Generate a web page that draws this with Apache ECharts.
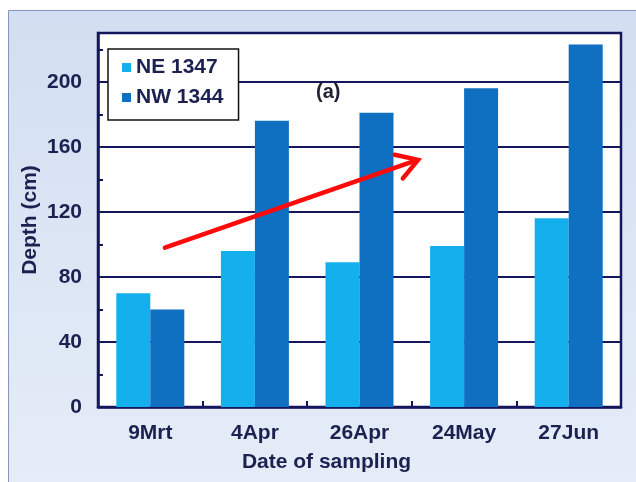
<!DOCTYPE html>
<html><head><meta charset="utf-8">
<script src="https://cdn.jsdelivr.net/npm/echarts@6/dist/echarts.min.js"></script>
<style>html,body{margin:0;padding:0;background:#fff}#c{width:636px;height:482px}</style>
</head><body><div id="c"></div>
<script>
const categories = ['9Mrt', '4Apr', '26Apr', '24May', '27Jun'];
const seriesNames = ['NE 1347', 'NW 1344'];
const ne1347 = [70, 96, 89, 99, 116];
const nw1344 = [60, 176, 181, 196, 223];
const yMin = 0, yMax = 230, yStep = 40;
// arrow annotation in data terms: [category position, depth]
const arrowStart = [0.14, 98];
const arrowEnd = [2.56, 152];

const navy = '#15175e';
const textCol = '#1b2150';
const font = 'Liberation Sans, Arial, sans-serif';

const chart = echarts.init(document.getElementById('c'));
chart.setOption({
  backgroundColor: '#ffffff',
  animation: false,
  graphic: {elements: [{
    id: 'bg', type: 'rect', z: -10, silent: true,
    shape: {x: 8.5, y: 10.5, width: 640, height: 490},
    style: {
      fill: new echarts.graphic.LinearGradient(0, 0, 0, 1, [
        {offset: 0, color: '#d2def1'}, {offset: 1, color: '#e6edf8'}]),
      stroke: '#8396bd', lineWidth: 1
    }
  }, {
    id: 'lbl', type: 'text', left: 316, top: 82, z: 10,
    style: {text: '(a)', font: 'bold 20px ' + font, fill: '#222233'}
  }]},
  grid: {left: 98, right: 15, top: 33, bottom: 75, show: true,
    backgroundColor: '#ffffff', borderColor: navy, borderWidth: 2.5},
  legend: {
    data: seriesNames, orient: 'vertical', left: 108, top: 49,
    backgroundColor: '#ffffff', borderColor: '#111111', borderWidth: 1.5,
    padding: [8, 15, 12, 14], itemGap: 9, itemWidth: 9, itemHeight: 9,
    itemTextGap: 8, icon: 'rect',
    textStyle: {fontFamily: font, fontWeight: 'bold', fontSize: 21, color: textCol}
  },
  xAxis: {
    type: 'category', data: categories,
    name: 'Date of sampling', nameLocation: 'middle', nameGap: 45, nameMoveOverlap: false,
    nameTextStyle: {fontFamily: font, fontWeight: 'bold', fontSize: 21, color: textCol, padding: [0, 66, 0, 0]},
    axisLine: {lineStyle: {color: navy, width: 2.5}},
    axisTick: {show: true, inside: true, length: 6, lineStyle: {color: navy, width: 2}},
    axisLabel: {fontFamily: font, fontWeight: 'bold', fontSize: 21, color: textCol, margin: 16}
  },
  yAxis: {
    type: 'value', min: yMin, max: yMax, interval: yStep,
    name: 'Depth (cm)', nameLocation: 'middle', nameGap: 57, nameRotate: 90, nameMoveOverlap: false,
    nameTextStyle: {fontFamily: font, fontWeight: 'bold', fontSize: 21, color: textCol},
    axisLine: {show: true, lineStyle: {color: navy, width: 2.5}},
    axisTick: {show: true, inside: true, length: 5, lineStyle: {color: navy, width: 2}},
    minorTick: {show: true, splitNumber: 2, length: 5, lineStyle: {color: navy, width: 2}},
    axisLabel: {fontFamily: font, fontWeight: 'bold', fontSize: 21, color: textCol, margin: 16, showMaxLabel: false},
    splitLine: {show: true, lineStyle: {color: navy, width: 2}}
  },
  series: [{
    name: seriesNames[0], type: 'bar', data: ne1347, barGap: '0%', barCategoryGap: '35%',
    itemStyle: {color: '#14b0ee'}
  }, {
    name: seriesNames[1], type: 'bar', data: nw1344, barGap: '0%', barCategoryGap: '35%',
    itemStyle: {color: '#0f6fc1'}
  }]
});

// arrow annotation placed via the chart's own scales
const cx0 = chart.convertToPixel({xAxisIndex: 0}, 0);
const cx1 = chart.convertToPixel({xAxisIndex: 0}, 1);
const px = v => cx0 + v * (cx1 - cx0);
const py = v => chart.convertToPixel({yAxisIndex: 0}, v);
const x1 = px(arrowStart[0]), y1 = py(arrowStart[1]);
const x2 = px(arrowEnd[0]), y2 = py(arrowEnd[1]);
const ang = Math.atan2(y2 - y1, x2 - x1);
const L = 24, spread = 0.55;
const a1 = [x2 - L * Math.cos(ang - spread), y2 - L * Math.sin(ang - spread)];
const a2 = [x2 - L * Math.cos(ang + spread), y2 - L * Math.sin(ang + spread)];
chart.setOption({graphic: {elements: [{
  id: 'arrowShaft', type: 'line', z: 20,
  shape: {x1: x1, y1: y1, x2: x2 - 2 * Math.cos(ang), y2: y2 - 2 * Math.sin(ang)},
  style: {stroke: '#ff0a0a', lineWidth: 4.5, lineCap: 'round'}
}, {
  id: 'arrowHead', type: 'polyline', z: 20,
  shape: {points: [a1, [x2, y2], a2]},
  style: {stroke: '#ff0a0a', lineWidth: 4.5, lineCap: 'round', lineJoin: 'miter', fill: null}
}]}});
</script>
</body></html>
